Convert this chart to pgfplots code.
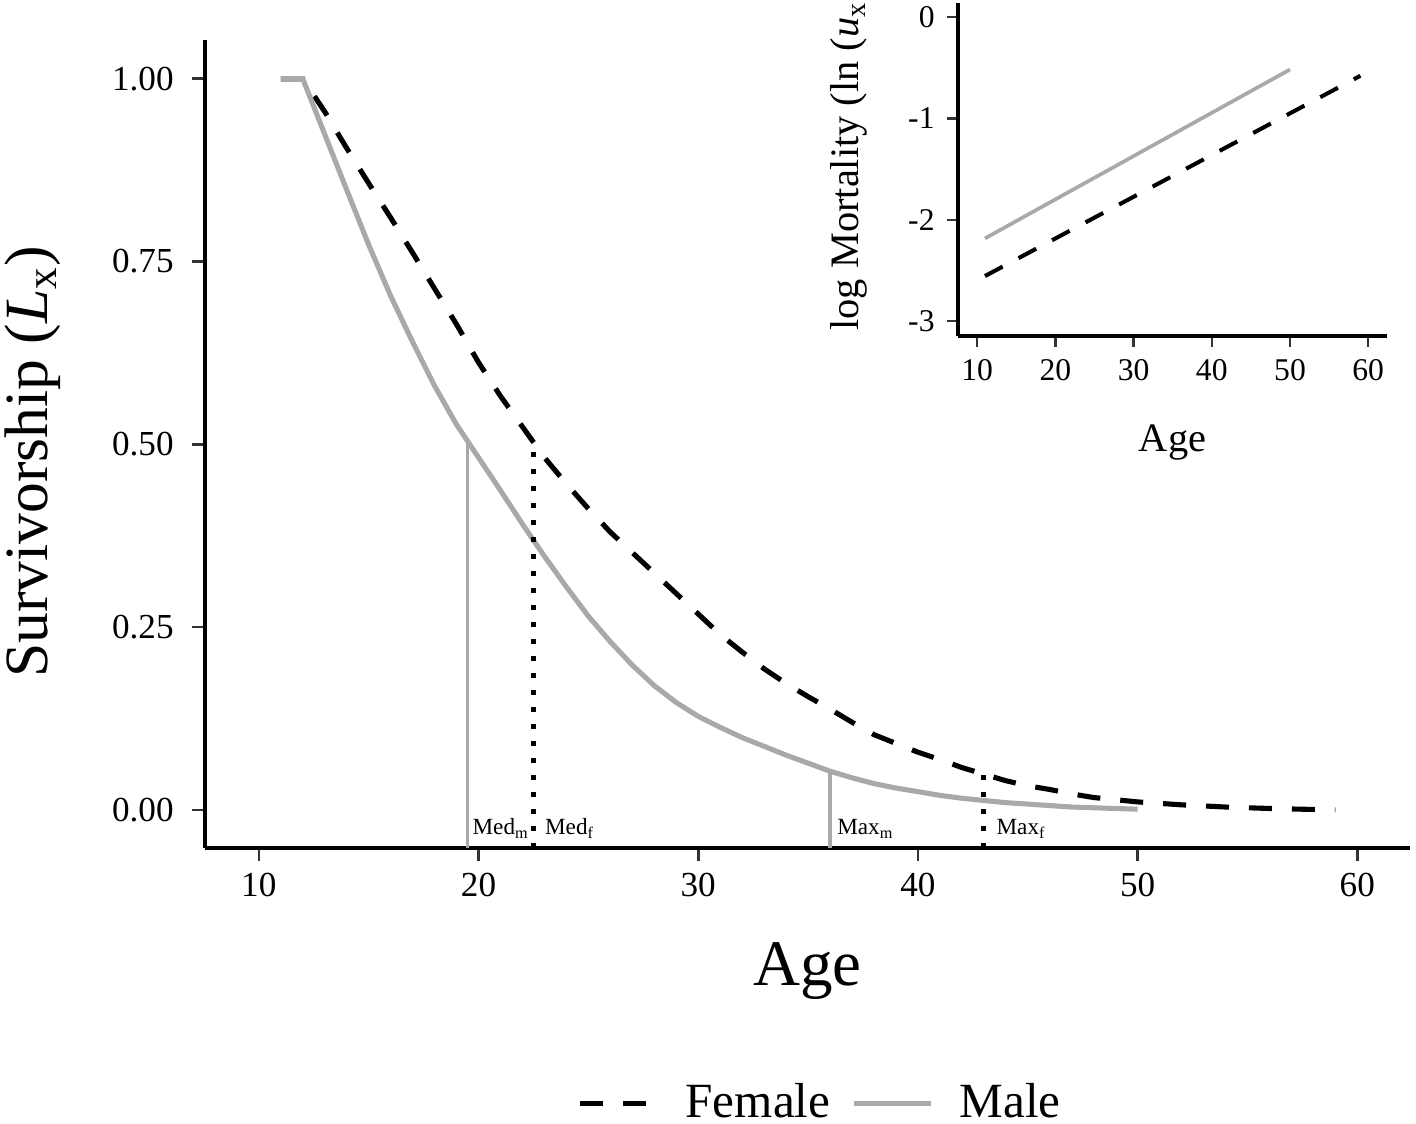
\documentclass[border=0pt]{standalone}
\usepackage{fontspec}
\setmainfont{Liberation Serif}
\usepackage{pgfplots}
\usepackage{pgfplotstable}
\pgfplotsset{compat=1.18}
\definecolor{mgray}{HTML}{A9A9A9}

\pgfplotstableread{
age L
11 1.000
12 1.000
13 0.955
14 0.905
15 0.857
16 0.810
17 0.762
18 0.713
19 0.664
20 0.612
21 0.566
22 0.524
23 0.482
24 0.446
25 0.412
26 0.380
27 0.352
28 0.324
29 0.296
30 0.268
31 0.240
32 0.216
33 0.193
34 0.173
35 0.155
36 0.138
37 0.120
38 0.103
39 0.091
40 0.079
41 0.069
42 0.058
43 0.049
44 0.040
45 0.033
46 0.028
47 0.022
48 0.017
49 0.014
50 0.011
52 0.007
54 0.004
56 0.002
59 0.000
}\female

\pgfplotstableread{
age L
11 1.000
12 1.000
13 0.924
14 0.848
15 0.773
16 0.703
17 0.640
18 0.580
19 0.527
20 0.482
21 0.437
22 0.391
23 0.347
24 0.305
25 0.265
26 0.230
27 0.198
28 0.170
29 0.147
30 0.128
31 0.113
32 0.099
33 0.087
34 0.075
35 0.064
36 0.053
37 0.044
38 0.036
39 0.030
40 0.025
41 0.020
42 0.016
43 0.013
44 0.010
45 0.008
46 0.006
47 0.004
48 0.003
49 0.002
50 0.001
}\male

\pgfplotstableread{
age lnu
11 -2.556
59 -0.578
}\femalemort

\pgfplotstableread{
age lnu
11 -2.184
50 -0.516
}\malemort

\begin{document}
\begin{tikzpicture}
\useasboundingbox (0,0) rectangle (14.16cm,11.24cm);
\begin{axis}[
  at={(2.05cm,2.76cm)}, anchor=south west,
  scale only axis, width=12.05cm, height=8.08cm,
  xmin=7.55, xmax=62.4, ymin=-0.052, ymax=1.053,
  axis x line=bottom, axis y line=left,
  axis line style={line width=1.4pt,-},
  tick align=outside, major tick length=0.13cm,
  tick style={black!80, line width=0.75pt},
  xtick={10,20,...,60}, ytick={0,0.25,0.5,0.75,1},
  yticklabels={0.00,0.25,0.50,0.75,1.00},
  /pgf/number format/assume math mode=true,
  ticklabel style={font=\fontsize{10}{12}\selectfont},
  yticklabel style={xshift=-0.06cm},
  xlabel={Age}, ylabel={Survivorship (\textit{L}\textsubscript{x})},
  label style={font=\fontsize{18.5}{22}\selectfont},
  ylabel style={font=\fontsize{17.5}{21}\selectfont, at={(axis description cs:-0.1311,0.1955)}, anchor=base west},
  xlabel style={at={(axis description cs:0.5,-0.1696)}, anchor=base},
  legend style={at={(axis description cs:0.5125,-0.316)}, anchor=center,
    draw=none, fill=none, legend columns=2,
    font=\fontsize{14}{16}\selectfont,
    /tikz/every odd column/.style={column sep=0.19cm},
    /tikz/every even column/.style={column sep=0.14cm}},
  legend image code/.code={\draw[#1] (0cm,0cm) -- (0.77cm,0cm);},
  clip=false,
]
\addplot[black, line width=1.45pt, dash pattern=on 2.3mm off 2.0mm] table[x=age,y=L]{\female};
\addlegendentry{Female}
\addplot[mgray, line width=1.45pt] table[x=age,y=L]{\male};
\addlegendentry{Male}
\addplot[mgray, line width=1.0pt, forget plot] coordinates {(19.5,-0.052) (19.5,0.505)};
\addplot[black, line width=1.35pt, dash pattern=on 0.45mm off 1.25mm, forget plot] coordinates {(22.5,-0.052) (22.5,0.50)};
\addplot[mgray, line width=1.0pt, forget plot] coordinates {(36,-0.052) (36,0.053)};
\addplot[black, line width=1.35pt, dash pattern=on 0.45mm off 1.25mm, forget plot] coordinates {(43,-0.052) (43,0.049)};
\node[anchor=base west, inner sep=0, font=\fontsize{6.6}{8}\selectfont] at (axis cs:19.7,-0.034) {Med\textsubscript{m}};
\node[anchor=base west, inner sep=0, font=\fontsize{6.6}{8}\selectfont] at (axis cs:23.0,-0.034) {Med\textsubscript{f}};
\node[anchor=base west, inner sep=0, font=\fontsize{6.6}{8}\selectfont] at (axis cs:36.3,-0.034) {Max\textsubscript{m}};
\node[anchor=base west, inner sep=0, font=\fontsize{6.6}{8}\selectfont] at (axis cs:43.55,-0.034) {Max\textsubscript{f}};
\end{axis}

\begin{axis}[
  at={(9.58cm,7.88cm)}, anchor=south west,
  scale only axis, width=4.29cm, height=3.33cm,
  xmin=7.55, xmax=62.4, ymin=-3.148, ymax=0.141,
  axis x line=bottom, axis y line=left,
  axis line style={line width=0.95pt,-},
  tick align=outside, major tick length=0.11cm,
  tick style={black!80, line width=0.7pt},
  xtick={10,20,...,60}, ytick={-3,-2,-1,0},
  yticklabels={-3,-2,-1,0},
  /pgf/number format/assume math mode=true,
  ticklabel style={font=\fontsize{9}{11}\selectfont},
  xlabel={Age}, ylabel={log Mortality (ln (\textit{u}\textsubscript{x}},
  label style={font=\fontsize{11.5}{14}\selectfont},
  xlabel style={at={(axis description cs:0.5,-0.348)}, anchor=base},
  ylabel style={at={(axis description cs:-0.231,-0.021)}, anchor=base west},
  clip=false,
]
\addplot[black, line width=1.15pt, dash pattern=on 2.0mm off 1.8mm] table[x=age,y=lnu]{\femalemort};
\addplot[mgray, line width=1.05pt] table[x=age,y=lnu]{\malemort};
\end{axis}
\end{tikzpicture}
\end{document}
